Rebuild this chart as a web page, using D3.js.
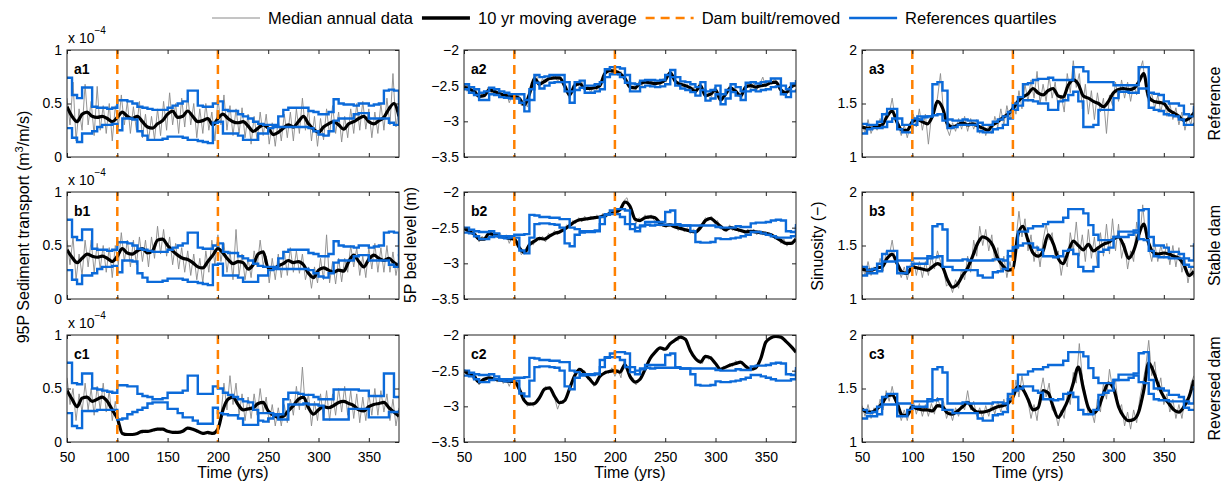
<!DOCTYPE html>
<html>
<head>
<meta charset="utf-8">
<script src="https://cdn.jsdelivr.net/npm/d3@7"></script>
<style>
  body { margin: 0; background: #fff; }
  svg text { font-family: "Liberation Sans", Arial, Helvetica, sans-serif; fill: #000; }
</style>
</head>
<body>
<div id="chart"></div>
<script>
// sample years: raw median every 3 yrs, moving average / quartiles every 5 yrs
const rawYears = d3.range(50, 381, 3);
const avgYears = d3.range(50, 381, 5);
const xTicks = [50, 100, 150, 200, 250, 300, 350];
const damYears = [100, 200];

// ---- column 1: 95P sediment transport (x 1e-4) ----
const rawA1 = [
  0.55,0.30,0.70,0.15,0.45,0.25,0.68,0.30,0.52,0.20,
  0.66,0.25,0.48,0.22,0.50,0.15,0.48,0.28,0.58,0.30,
  0.52,0.22,0.47,0.25,0.52,0.18,0.40,0.15,0.38,0.16,
  0.45,0.20,0.52,0.25,0.60,0.30,0.50,0.22,0.55,0.28,
  0.58,0.30,0.50,0.18,0.45,0.22,0.50,0.25,0.42,0.15,
  0.55,0.30,0.58,0.25,0.48,0.20,0.45,0.22,0.46,0.18,
  0.40,0.12,0.38,0.15,0.42,0.20,0.40,0.12,0.32,0.10,
  0.35,0.15,0.40,0.18,0.42,0.15,0.45,0.22,0.55,0.25,
  0.45,0.15,0.38,0.10,0.36,0.16,0.45,0.20,0.48,0.22,
  0.42,0.14,0.38,0.18,0.45,0.22,0.50,0.25,0.52,0.26,
  0.45,0.18,0.42,0.22,0.50,0.25,0.55,0.30,0.78,0.28,
  0.45];
const rawB1 = [
  0.55,0.32,0.58,0.18,0.42,0.22,0.55,0.30,0.55,0.25,
  0.52,0.28,0.50,0.25,0.48,0.20,0.50,0.32,0.62,0.35,
  0.55,0.30,0.55,0.32,0.58,0.35,0.55,0.30,0.58,0.38,
  0.68,0.42,0.65,0.40,0.58,0.32,0.52,0.28,0.48,0.25,
  0.45,0.22,0.42,0.18,0.38,0.15,0.45,0.25,0.55,0.32,
  0.60,0.35,0.52,0.25,0.45,0.18,0.65,0.22,0.42,0.18,
  0.38,0.20,0.45,0.30,0.55,0.32,0.40,0.15,0.38,0.18,
  0.42,0.20,0.45,0.22,0.48,0.25,0.45,0.24,0.42,0.18,
  0.30,0.10,0.30,0.15,0.38,0.18,0.60,0.15,0.35,0.14,
  0.38,0.16,0.38,0.25,0.50,0.30,0.48,0.22,0.40,0.20,
  0.48,0.28,0.52,0.25,0.48,0.25,0.50,0.25,0.44,0.22,
  0.38];
const rawC1 = [
  0.60,0.35,0.50,0.20,0.45,0.28,0.55,0.30,0.50,0.25,
  0.52,0.30,0.55,0.28,0.48,0.20,0.38,0.15,0.10,0.06,
  0.08,0.06,0.08,0.07,0.10,0.08,0.11,0.09,0.12,0.10,
  0.13,0.11,0.13,0.10,0.11,0.08,0.10,0.08,0.11,0.10,
  0.14,0.12,0.13,0.09,0.10,0.07,0.09,0.07,0.09,0.07,
  0.15,0.25,0.55,0.30,0.62,0.35,0.55,0.25,0.45,0.20,
  0.42,0.22,0.45,0.25,0.50,0.28,0.42,0.18,0.35,0.15,
  0.32,0.15,0.35,0.18,0.40,0.25,0.52,0.30,0.70,0.30,
  0.45,0.15,0.38,0.20,0.45,0.22,0.48,0.20,0.45,0.25,
  0.50,0.28,0.52,0.25,0.48,0.22,0.45,0.18,0.42,0.20,
  0.45,0.25,0.50,0.25,0.48,0.28,0.45,0.20,0.40,0.15,
  0.32];
const avgA1 = [
  0.47,0.38,0.33,0.40,0.42,0.38,0.37,0.38,0.36,0.33,
  0.37,0.42,0.38,0.36,0.38,0.33,0.28,0.27,0.31,0.34,
  0.40,0.43,0.37,0.38,0.43,0.38,0.33,0.34,0.36,0.30,
  0.36,0.40,0.36,0.33,0.32,0.33,0.29,0.24,0.27,0.30,
  0.27,0.21,0.23,0.27,0.30,0.28,0.33,0.38,0.31,0.26,
  0.23,0.28,0.31,0.33,0.30,0.26,0.31,0.33,0.36,0.38,
  0.33,0.31,0.34,0.37,0.45,0.50,0.38];
const avgB1 = [
  0.46,0.39,0.34,0.38,0.42,0.40,0.39,0.40,0.38,0.35,
  0.40,0.47,0.43,0.42,0.45,0.47,0.43,0.45,0.55,0.56,
  0.50,0.45,0.41,0.38,0.37,0.34,0.30,0.29,0.35,0.41,
  0.47,0.43,0.37,0.33,0.35,0.34,0.28,0.32,0.42,0.44,
  0.29,0.28,0.31,0.33,0.36,0.34,0.35,0.32,0.24,0.20,
  0.27,0.29,0.27,0.25,0.27,0.26,0.35,0.41,0.35,0.30,
  0.37,0.41,0.38,0.36,0.38,0.34,0.31];
const avgC1 = [
  0.48,0.40,0.33,0.41,0.42,0.38,0.40,0.42,0.38,0.30,
  0.22,0.08,0.07,0.07,0.08,0.10,0.10,0.11,0.12,0.12,
  0.10,0.09,0.09,0.10,0.13,0.12,0.10,0.08,0.09,0.08,
  0.12,0.30,0.40,0.42,0.35,0.30,0.31,0.32,0.36,0.37,
  0.29,0.25,0.23,0.24,0.29,0.34,0.40,0.42,0.32,0.26,
  0.30,0.33,0.32,0.34,0.37,0.38,0.36,0.34,0.30,0.29,
  0.33,0.35,0.36,0.37,0.32,0.28,0.24];
const q1UpAB = [
  0.74,0.58,0.55,0.65,0.65,0.47,0.46,0.46,0.45,0.46,
  0.53,0.53,0.52,0.50,0.47,0.46,0.45,0.44,0.44,0.44,
  0.46,0.48,0.50,0.52,0.62,0.62,0.48,0.47,0.47,0.50,
  0.52,0.44,0.43,0.43,0.40,0.38,0.36,0.33,0.31,0.30,
  0.30,0.30,0.38,0.44,0.46,0.46,0.46,0.46,0.43,0.42,
  0.40,0.40,0.42,0.54,0.50,0.49,0.49,0.48,0.50,0.50,
  0.48,0.49,0.50,0.62,0.63,0.62,0.40];
const q1LoAB = [
  0.27,0.18,0.14,0.22,0.22,0.24,0.28,0.30,0.30,0.31,
  0.25,0.36,0.36,0.35,0.24,0.20,0.16,0.16,0.16,0.17,
  0.19,0.19,0.19,0.18,0.16,0.16,0.15,0.14,0.13,0.32,
  0.33,0.22,0.22,0.22,0.20,0.16,0.16,0.16,0.22,0.22,
  0.27,0.28,0.28,0.28,0.28,0.28,0.28,0.28,0.27,0.24,
  0.21,0.20,0.24,0.34,0.36,0.36,0.36,0.40,0.41,0.41,
  0.36,0.36,0.36,0.36,0.32,0.30,0.42];
const q1UpC = [
  0.74,0.55,0.54,0.64,0.64,0.50,0.49,0.48,0.47,0.46,
  0.53,0.53,0.52,0.52,0.45,0.43,0.42,0.40,0.40,0.41,
  0.46,0.46,0.46,0.48,0.62,0.62,0.45,0.45,0.45,0.52,
  0.50,0.46,0.44,0.42,0.40,0.38,0.37,0.30,0.20,0.19,
  0.22,0.25,0.26,0.40,0.46,0.46,0.45,0.44,0.44,0.42,
  0.40,0.40,0.40,0.49,0.49,0.49,0.49,0.49,0.48,0.48,
  0.43,0.43,0.43,0.64,0.64,0.42,0.42];
const q1LoC = [
  0.27,0.15,0.13,0.29,0.29,0.29,0.30,0.30,0.30,0.30,
  0.21,0.22,0.26,0.28,0.30,0.32,0.36,0.37,0.37,0.37,
  0.31,0.31,0.27,0.23,0.23,0.20,0.17,0.17,0.17,0.32,
  0.27,0.26,0.25,0.25,0.22,0.16,0.16,0.16,0.27,0.27,
  0.27,0.26,0.21,0.21,0.35,0.35,0.35,0.36,0.35,0.35,
  0.34,0.21,0.21,0.21,0.21,0.21,0.31,0.31,0.31,0.31,
  0.23,0.23,0.23,0.23,0.28,0.28,0.30];

// ---- column 2: 5P bed level (m) ----
const rawA2 = [
  -2.48,-2.58,-2.52,-2.62,-2.56,-2.70,-2.60,-2.66,-2.52,-2.60,
  -2.54,-2.64,-2.58,-2.68,-2.60,-2.74,-2.62,-2.66,-2.62,-2.78,
  -2.72,-2.80,-2.55,-2.42,-2.35,-2.52,-2.40,-2.46,-2.36,-2.42,
  -2.34,-2.44,-2.38,-2.52,-2.58,-2.70,-2.50,-2.44,-2.50,-2.44,
  -2.58,-2.50,-2.60,-2.48,-2.56,-2.46,-2.40,-2.30,-2.25,-2.33,
  -2.22,-2.36,-2.30,-2.42,-2.45,-2.55,-2.50,-2.56,-2.44,-2.50,
  -2.42,-2.48,-2.43,-2.50,-2.44,-2.50,-2.40,-2.45,-2.30,-2.35,
  -2.40,-2.50,-2.46,-2.52,-2.48,-2.56,-2.52,-2.60,-2.46,-2.56,
  -2.68,-2.60,-2.66,-2.52,-2.60,-2.72,-2.66,-2.58,-2.50,-2.56,
  -2.54,-2.62,-2.68,-2.56,-2.48,-2.54,-2.46,-2.56,-2.48,-2.38,
  -2.52,-2.44,-2.48,-2.40,-2.48,-2.54,-2.64,-2.56,-2.60,-2.46,
  -2.50];
const rawB2 = [
  -2.48,-2.56,-2.52,-2.60,-2.58,-2.70,-2.62,-2.68,-2.56,-2.62,
  -2.56,-2.64,-2.58,-2.66,-2.60,-2.72,-2.62,-2.70,-2.76,-2.88,
  -2.82,-2.84,-2.70,-2.74,-2.64,-2.68,-2.62,-2.70,-2.58,-2.62,
  -2.54,-2.60,-2.52,-2.56,-2.46,-2.50,-2.40,-2.44,-2.36,-2.42,
  -2.34,-2.40,-2.34,-2.38,-2.32,-2.38,-2.30,-2.36,-2.28,-2.32,
  -2.24,-2.30,-2.20,-2.12,-2.08,-2.24,-2.34,-2.44,-2.36,-2.40,
  -2.32,-2.38,-2.32,-2.40,-2.38,-2.48,-2.42,-2.50,-2.44,-2.50,
  -2.46,-2.54,-2.48,-2.56,-2.50,-2.58,-2.52,-2.56,-2.46,-2.44,
  -2.36,-2.40,-2.34,-2.44,-2.40,-2.52,-2.50,-2.56,-2.46,-2.54,
  -2.48,-2.56,-2.52,-2.58,-2.52,-2.58,-2.52,-2.60,-2.54,-2.60,
  -2.56,-2.62,-2.58,-2.66,-2.62,-2.72,-2.66,-2.76,-2.70,-2.74,
  -2.62];
const rawC2 = [
  -2.48,-2.56,-2.52,-2.62,-2.58,-2.70,-2.62,-2.66,-2.58,-2.64,
  -2.58,-2.66,-2.60,-2.68,-2.62,-2.72,-2.60,-2.70,-2.72,-2.86,
  -2.90,-3.00,-2.94,-3.00,-2.92,-2.86,-2.82,-2.72,-2.76,-2.78,
  -2.88,-3.04,-2.92,-2.96,-2.86,-2.76,-2.62,-2.54,-2.46,-2.52,
  -2.50,-2.62,-2.60,-2.72,-2.62,-2.56,-2.54,-2.50,-2.54,-2.46,
  -2.58,-2.48,-2.60,-2.36,-2.48,-2.62,-2.60,-2.70,-2.62,-2.56,
  -2.46,-2.36,-2.30,-2.26,-2.20,-2.18,-2.22,-2.16,-2.14,-2.10,
  -2.04,-2.08,-2.00,-2.06,-2.10,-2.22,-2.30,-2.36,-2.34,-2.40,
  -2.28,-2.34,-2.30,-2.38,-2.44,-2.50,-2.44,-2.46,-2.40,-2.44,
  -2.36,-2.40,-2.38,-2.44,-2.46,-2.50,-2.46,-2.42,-2.34,-2.24,
  -2.12,-2.04,-2.02,-2.00,-2.04,-2.02,-2.08,-2.10,-2.16,-2.20,
  -2.26];
const avgA2 = [
  -2.52,-2.55,-2.58,-2.65,-2.64,-2.56,-2.58,-2.61,-2.63,-2.65,
  -2.65,-2.68,-2.77,-2.62,-2.40,-2.48,-2.44,-2.40,-2.39,-2.39,
  -2.50,-2.63,-2.50,-2.47,-2.54,-2.54,-2.53,-2.50,-2.33,-2.29,
  -2.30,-2.33,-2.40,-2.52,-2.53,-2.47,-2.45,-2.46,-2.47,-2.46,
  -2.42,-2.32,-2.44,-2.48,-2.50,-2.53,-2.58,-2.50,-2.64,-2.62,
  -2.56,-2.70,-2.62,-2.53,-2.58,-2.64,-2.52,-2.50,-2.52,-2.50,
  -2.49,-2.46,-2.45,-2.56,-2.60,-2.52,-2.48];
const avgB2 = [
  -2.51,-2.55,-2.59,-2.66,-2.66,-2.58,-2.60,-2.62,-2.63,-2.65,
  -2.66,-2.78,-2.85,-2.74,-2.69,-2.65,-2.66,-2.62,-2.58,-2.56,
  -2.52,-2.47,-2.42,-2.39,-2.38,-2.37,-2.36,-2.35,-2.33,-2.30,
  -2.28,-2.25,-2.14,-2.20,-2.38,-2.40,-2.36,-2.35,-2.36,-2.44,
  -2.47,-2.46,-2.49,-2.51,-2.53,-2.55,-2.56,-2.50,-2.40,-2.37,
  -2.42,-2.48,-2.53,-2.50,-2.52,-2.54,-2.56,-2.55,-2.56,-2.57,
  -2.58,-2.60,-2.64,-2.68,-2.72,-2.72,-2.66];
const avgC2 = [
  -2.50,-2.55,-2.58,-2.66,-2.62,-2.60,-2.62,-2.63,-2.64,-2.65,
  -2.65,-2.76,-2.92,-2.97,-2.96,-2.88,-2.76,-2.74,-2.86,-2.95,
  -2.92,-2.75,-2.57,-2.48,-2.54,-2.62,-2.69,-2.58,-2.53,-2.51,
  -2.50,-2.52,-2.42,-2.58,-2.66,-2.62,-2.48,-2.33,-2.24,-2.18,
  -2.20,-2.12,-2.07,-2.03,-2.06,-2.22,-2.33,-2.38,-2.30,-2.32,
  -2.40,-2.48,-2.45,-2.42,-2.40,-2.38,-2.44,-2.48,-2.46,-2.33,
  -2.10,-2.04,-2.02,-2.03,-2.09,-2.16,-2.24];
const q2UpA = [
  -2.48,-2.52,-2.55,-2.60,-2.58,-2.53,-2.55,-2.58,-2.60,-2.62,
  -2.62,-2.62,-2.70,-2.55,-2.35,-2.38,-2.37,-2.35,-2.35,-2.35,
  -2.45,-2.58,-2.45,-2.43,-2.50,-2.50,-2.48,-2.45,-2.27,-2.24,
  -2.24,-2.26,-2.35,-2.47,-2.48,-2.43,-2.42,-2.42,-2.43,-2.42,
  -2.35,-2.28,-2.38,-2.44,-2.45,-2.48,-2.52,-2.45,-2.58,-2.56,
  -2.50,-2.62,-2.56,-2.48,-2.52,-2.58,-2.46,-2.45,-2.47,-2.45,
  -2.44,-2.40,-2.40,-2.50,-2.55,-2.47,-2.42];
const q2LoA = [
  -2.55,-2.60,-2.63,-2.70,-2.70,-2.62,-2.63,-2.66,-2.67,-2.68,
  -2.68,-2.74,-2.86,-2.70,-2.46,-2.54,-2.50,-2.46,-2.45,-2.45,
  -2.58,-2.74,-2.56,-2.53,-2.60,-2.60,-2.58,-2.55,-2.38,-2.34,
  -2.34,-2.38,-2.46,-2.58,-2.58,-2.52,-2.50,-2.51,-2.52,-2.51,
  -2.48,-2.38,-2.50,-2.54,-2.56,-2.59,-2.64,-2.56,-2.71,-2.68,
  -2.62,-2.76,-2.68,-2.59,-2.64,-2.70,-2.58,-2.56,-2.58,-2.56,
  -2.55,-2.52,-2.51,-2.62,-2.66,-2.58,-2.55];
const q2UpBC = [
  -2.50,-2.53,-2.55,-2.56,-2.56,-2.55,-2.58,-2.62,-2.62,-2.62,
  -2.60,-2.60,-2.59,-2.32,-2.33,-2.35,-2.35,-2.36,-2.36,-2.38,
  -2.38,-2.50,-2.52,-2.55,-2.55,-2.55,-2.54,-2.45,-2.31,-2.26,
  -2.24,-2.24,-2.26,-2.45,-2.50,-2.47,-2.42,-2.42,-2.42,-2.42,
  -2.28,-2.26,-2.45,-2.47,-2.47,-2.47,-2.47,-2.47,-2.47,-2.47,
  -2.49,-2.50,-2.50,-2.50,-2.48,-2.49,-2.49,-2.44,-2.43,-2.43,
  -2.42,-2.40,-2.39,-2.40,-2.55,-2.56,-2.45];
const q2LoBC = [
  -2.57,-2.58,-2.62,-2.66,-2.66,-2.63,-2.62,-2.64,-2.65,-2.64,
  -2.64,-2.82,-2.86,-2.64,-2.45,-2.44,-2.44,-2.45,-2.46,-2.50,
  -2.72,-2.76,-2.60,-2.57,-2.56,-2.56,-2.55,-2.35,-2.32,-2.31,
  -2.31,-2.35,-2.45,-2.52,-2.55,-2.48,-2.46,-2.47,-2.46,-2.46,
  -2.46,-2.46,-2.46,-2.47,-2.47,-2.55,-2.70,-2.71,-2.71,-2.70,
  -2.65,-2.66,-2.66,-2.65,-2.64,-2.62,-2.60,-2.56,-2.56,-2.58,
  -2.60,-2.62,-2.64,-2.64,-2.64,-2.62,-2.48];

// ---- column 3: sinuosity (-) ----
const rawA3 = [
  1.32,1.22,1.35,1.22,1.30,1.25,1.36,1.26,1.42,1.40,
  1.55,1.36,1.30,1.20,1.30,1.18,1.30,1.40,1.28,1.45,
  1.25,1.40,1.12,1.38,1.45,1.55,1.78,1.42,1.28,1.20,
  1.32,1.24,1.36,1.26,1.38,1.24,1.36,1.26,1.35,1.22,
  1.32,1.20,1.30,1.22,1.38,1.28,1.45,1.30,1.48,1.35,
  1.55,1.40,1.62,1.45,1.68,1.52,1.72,1.55,1.80,1.50,
  1.68,1.52,1.75,1.55,1.70,1.45,1.58,1.42,1.78,1.60,
  1.90,1.65,1.78,1.45,1.68,1.40,1.62,1.35,1.60,1.42,
  1.55,1.22,1.58,1.48,1.70,1.52,1.72,1.55,1.70,1.52,
  1.68,1.58,1.80,1.90,1.62,1.50,1.60,1.45,1.58,1.42,
  1.56,1.38,1.50,1.35,1.46,1.30,1.42,1.25,1.38,1.30,
  1.50];
const rawB3 = [
  1.32,1.22,1.35,1.22,1.30,1.25,1.38,1.26,1.45,1.40,
  1.55,1.36,1.28,1.20,1.30,1.18,1.32,1.38,1.22,1.35,
  1.20,1.35,1.22,1.40,1.28,1.45,1.35,1.28,1.12,1.15,
  1.06,1.18,1.10,1.28,1.18,1.40,1.25,1.55,1.40,1.68,
  1.50,1.65,1.45,1.60,1.35,1.48,1.25,1.40,1.20,1.35,
  1.22,1.55,1.82,1.58,1.75,1.45,1.60,1.35,1.50,1.30,
  1.55,1.70,1.55,1.62,1.38,1.45,1.22,1.40,1.30,1.62,
  1.45,1.72,1.40,1.60,1.35,1.65,1.38,1.58,1.30,1.62,
  1.40,1.70,1.42,1.75,1.45,1.70,1.38,1.52,1.28,1.45,
  1.35,1.72,1.55,1.88,1.58,1.48,1.35,1.52,1.35,1.50,
  1.38,1.52,1.32,1.50,1.30,1.48,1.25,1.38,1.15,1.30,
  1.20];
const rawC3 = [
  1.34,1.24,1.35,1.22,1.32,1.26,1.40,1.30,1.48,1.38,
  1.52,1.38,1.30,1.20,1.30,1.20,1.34,1.38,1.26,1.36,
  1.24,1.35,1.24,1.36,1.26,1.42,1.32,1.38,1.22,1.30,
  1.20,1.32,1.24,1.36,1.30,1.48,1.30,1.38,1.24,1.32,
  1.22,1.34,1.24,1.36,1.26,1.38,1.28,1.40,1.30,1.45,
  1.35,1.58,1.42,1.62,1.45,1.38,1.22,1.35,1.20,1.45,
  1.60,1.42,1.55,1.30,1.28,1.15,1.30,1.22,1.45,1.35,
  1.65,1.55,1.92,1.60,1.45,1.25,1.30,1.18,1.40,1.28,
  1.55,1.40,1.68,1.50,1.58,1.30,1.35,1.15,1.28,1.12,
  1.30,1.18,1.40,1.55,1.70,1.95,1.62,1.75,1.48,1.60,
  1.35,1.45,1.28,1.40,1.22,1.35,1.22,1.40,1.35,1.55,
  1.62];
const avgA3 = [
  1.28,1.27,1.27,1.29,1.30,1.38,1.43,1.32,1.25,1.25,
  1.33,1.35,1.33,1.31,1.38,1.52,1.46,1.31,1.28,1.30,
  1.32,1.30,1.31,1.29,1.27,1.25,1.30,1.33,1.37,1.40,
  1.45,1.52,1.56,1.59,1.64,1.60,1.58,1.62,1.64,1.57,
  1.56,1.67,1.72,1.68,1.57,1.55,1.52,1.50,1.47,1.52,
  1.60,1.63,1.64,1.63,1.64,1.70,1.78,1.56,1.52,1.51,
  1.50,1.44,1.41,1.38,1.34,1.36,1.41];
const avgB3 = [
  1.28,1.27,1.27,1.29,1.30,1.38,1.42,1.33,1.25,1.24,
  1.30,1.29,1.28,1.27,1.30,1.33,1.30,1.18,1.11,1.14,
  1.22,1.29,1.40,1.52,1.58,1.56,1.50,1.38,1.31,1.27,
  1.28,1.60,1.68,1.55,1.43,1.40,1.45,1.60,1.52,1.38,
  1.33,1.44,1.54,1.50,1.46,1.51,1.45,1.48,1.51,1.53,
  1.56,1.58,1.50,1.38,1.45,1.60,1.70,1.52,1.43,1.42,
  1.43,1.42,1.40,1.38,1.32,1.22,1.26];
const avgC3 = [
  1.31,1.28,1.28,1.31,1.36,1.43,1.44,1.36,1.25,1.25,
  1.33,1.31,1.30,1.30,1.29,1.34,1.33,1.27,1.26,1.29,
  1.33,1.37,1.31,1.28,1.28,1.29,1.31,1.33,1.34,1.36,
  1.42,1.52,1.49,1.40,1.30,1.32,1.48,1.46,1.33,1.23,
  1.30,1.40,1.55,1.70,1.50,1.32,1.27,1.32,1.45,1.55,
  1.50,1.33,1.24,1.20,1.21,1.28,1.48,1.74,1.65,1.52,
  1.42,1.36,1.30,1.28,1.33,1.42,1.58];
const q3UpA = [
  1.31,1.30,1.30,1.33,1.40,1.45,1.45,1.36,1.30,1.30,
  1.36,1.38,1.38,1.38,1.68,1.70,1.62,1.35,1.34,1.34,
  1.35,1.34,1.34,1.32,1.30,1.30,1.33,1.35,1.38,1.42,
  1.50,1.56,1.68,1.69,1.72,1.73,1.73,1.74,1.72,1.72,
  1.72,1.72,1.84,1.84,1.80,1.70,1.70,1.70,1.70,1.70,
  1.67,1.67,1.67,1.67,1.67,1.84,1.84,1.60,1.59,1.58,
  1.52,1.50,1.50,1.48,1.40,1.38,1.48];
const q3LoA = [
  1.22,1.26,1.27,1.27,1.28,1.33,1.36,1.26,1.23,1.23,
  1.30,1.35,1.37,1.38,1.39,1.40,1.34,1.27,1.28,1.30,
  1.30,1.30,1.30,1.24,1.23,1.23,1.26,1.27,1.30,1.36,
  1.44,1.48,1.53,1.53,1.52,1.50,1.50,1.44,1.44,1.52,
  1.53,1.58,1.61,1.52,1.28,1.28,1.30,1.44,1.44,1.44,
  1.55,1.61,1.61,1.60,1.60,1.64,1.64,1.46,1.44,1.43,
  1.40,1.39,1.38,1.35,1.30,1.30,1.32];
const q3UpBC = [
  1.30,1.27,1.28,1.33,1.42,1.45,1.45,1.36,1.36,1.36,
  1.38,1.38,1.38,1.40,1.68,1.70,1.65,1.36,1.36,1.36,
  1.37,1.36,1.36,1.36,1.36,1.36,1.37,1.37,1.36,1.40,
  1.49,1.63,1.63,1.66,1.68,1.68,1.70,1.72,1.72,1.72,
  1.76,1.84,1.84,1.84,1.80,1.69,1.60,1.55,1.55,1.55,
  1.58,1.63,1.63,1.63,1.64,1.83,1.84,1.58,1.50,1.50,
  1.48,1.44,1.44,1.42,1.38,1.36,1.52];
const q3LoBC = [
  1.22,1.24,1.24,1.26,1.35,1.35,1.35,1.24,1.24,1.30,
  1.33,1.33,1.33,1.38,1.39,1.40,1.30,1.30,1.27,1.27,
  1.27,1.27,1.27,1.22,1.20,1.20,1.25,1.26,1.28,1.45,
  1.48,1.50,1.52,1.52,1.48,1.46,1.40,1.40,1.39,1.40,
  1.45,1.46,1.42,1.30,1.26,1.26,1.30,1.44,1.46,1.48,
  1.58,1.58,1.58,1.60,1.62,1.56,1.55,1.45,1.40,1.39,
  1.39,1.38,1.38,1.38,1.32,1.30,1.30];

const rowNames = ['Reference', 'Stable dam', 'Reversed dam'];

// layout
const W = 1225, H = 487;
const colLeft = [67, 464, 862];
const rowTop = [50, 192, 335];
const pw = 332, ph = 107;

const colors = { raw: '#8a8a8a', avg: '#000000', dam: '#ff8000', quart: '#0b6ad9' };

const columns = [
  { domain: [0, 1], ticks: [0, 0.5, 1], multiplier: true },
  { domain: [-3.5, -2], ticks: [-3.5, -3, -2.5, -2], multiplier: false },
  { domain: [1, 2], ticks: [1, 1.5, 2], multiplier: false }
];

const panels = [
  { row: 0, col: 0, tag: 'a1', raw: rawA1, avg: avgA1, q: [q1UpAB, q1LoAB] },
  { row: 1, col: 0, tag: 'b1', raw: rawB1, avg: avgB1, q: [q1UpAB, q1LoAB] },
  { row: 2, col: 0, tag: 'c1', raw: rawC1, avg: avgC1, q: [q1UpC, q1LoC] },
  { row: 0, col: 1, tag: 'a2', raw: rawA2, avg: avgA2, q: [q2UpA, q2LoA] },
  { row: 1, col: 1, tag: 'b2', raw: rawB2, avg: avgB2, q: [q2UpBC, q2LoBC] },
  { row: 2, col: 1, tag: 'c2', raw: rawC2, avg: avgC2, q: [q2UpBC, q2LoBC] },
  { row: 0, col: 2, tag: 'a3', raw: rawA3, avg: avgA3, q: [q3UpA, q3LoA] },
  { row: 1, col: 2, tag: 'b3', raw: rawB3, avg: avgB3, q: [q3UpBC, q3LoBC] },
  { row: 2, col: 2, tag: 'c3', raw: rawC3, avg: avgC3, q: [q3UpBC, q3LoBC] }
];

const svg = d3.select('#chart').append('svg')
  .attr('width', W).attr('height', H);
const defs = svg.append('defs');

const fmt = d3.format('');

function styleAxis(g) {
  g.select('.domain').remove();
  g.selectAll('.tick line').attr('stroke', '#222').attr('stroke-width', 1);
  g.selectAll('.tick text')
    .attr('font-family', '"Liberation Sans", Arial, sans-serif')
    .attr('font-size', 14).attr('fill', '#000');
}

function drawPanel(p) {
  const c = columns[p.col];
  const x0 = colLeft[p.col], y0 = rowTop[p.row];
  const x = d3.scaleLinear().domain([50, 380]).range([x0, x0 + pw]);
  const y = d3.scaleLinear().domain(c.domain).range([y0 + ph, y0]);

  const clipId = 'clip-' + p.tag;
  defs.append('clipPath').attr('id', clipId)
    .append('rect').attr('x', x0).attr('y', y0).attr('width', pw).attr('height', ph);

  const g = svg.append('g');
  const plot = g.append('g').attr('clip-path', `url(#${clipId})`);

  // median annual data
  plot.append('path')
    .datum(p.raw)
    .attr('fill', 'none')
    .attr('stroke', colors.raw)
    .attr('stroke-width', 0.9)
    .attr('d', d3.line().x((d, i) => x(rawYears[i])).y(d => y(d)));

  // 10 yr moving average
  plot.append('path')
    .datum(p.avg)
    .attr('fill', 'none')
    .attr('stroke', colors.avg)
    .attr('stroke-width', 3.2)
    .attr('stroke-linejoin', 'round')
    .attr('d', d3.line().curve(d3.curveMonotoneX).x((d, i) => x(avgYears[i])).y(d => y(d)));

  // reference quartiles (stepped)
  p.q.forEach(arr => {
    plot.append('path')
      .datum(arr)
      .attr('fill', 'none')
      .attr('stroke', colors.quart)
      .attr('stroke-width', 2.4)
      .attr('d', d3.line().curve(d3.curveStepAfter).x((d, i) => x(avgYears[i])).y(d => y(d)));
  });

  // dam built / removed
  g.selectAll('line.dam')
    .data(damYears)
    .join('line')
    .attr('class', 'dam')
    .attr('x1', d => x(d)).attr('x2', d => x(d))
    .attr('y1', y0).attr('y2', y0 + ph)
    .attr('stroke', colors.dam)
    .attr('stroke-width', 2.5)
    .attr('stroke-dasharray', '9,6');

  // axes, MATLAB style with ticks inside on all four sides
  g.append('g')
    .attr('transform', `translate(0,${y0 + ph})`)
    .call(d3.axisBottom(x).tickValues(xTicks).tickSizeInner(-4).tickSizeOuter(0).tickPadding(10)
      .tickFormat(p.row === 2 ? fmt : () => ''))
    .call(styleAxis);
  g.append('g')
    .attr('transform', `translate(0,${y0})`)
    .call(d3.axisTop(x).tickValues(xTicks).tickSizeInner(-4).tickSizeOuter(0).tickFormat(() => ''))
    .call(styleAxis);
  g.append('g')
    .attr('transform', `translate(${x0},0)`)
    .call(d3.axisLeft(y).tickValues(c.ticks).tickSizeInner(-4).tickSizeOuter(0).tickPadding(5).tickFormat(fmt))
    .call(styleAxis);
  g.append('g')
    .attr('transform', `translate(${x0 + pw},0)`)
    .call(d3.axisRight(y).tickValues(c.ticks).tickSizeInner(-4).tickSizeOuter(0).tickFormat(() => ''))
    .call(styleAxis);

  g.append('rect')
    .attr('x', x0).attr('y', y0).attr('width', pw).attr('height', ph)
    .attr('fill', 'none').attr('stroke', '#222').attr('stroke-width', 1);

  // panel tag
  g.append('text')
    .attr('x', x0 + 7).attr('y', y0 + 24)
    .attr('font-size', 14).attr('font-weight', 'bold')
    .text(p.tag);

  // x 10^-4 multiplier
  if (c.multiplier) {
    const t = g.append('text').attr('x', x0 + 1).attr('y', y0 - 7).attr('font-size', 14);
    t.append('tspan').text('x 10');
    t.append('tspan').attr('dy', -9).attr('font-size', 10).text('\u22124');
  }
}

panels.forEach(drawPanel);

// x axis labels
colLeft.forEach(x0 => {
  svg.append('text')
    .attr('x', x0 + pw / 2).attr('y', 478)
    .attr('text-anchor', 'middle').attr('font-size', 16)
    .text('Time (yrs)');
});

// y axis labels
const yl1 = svg.append('text')
  .attr('transform', 'translate(29,227) rotate(-90)')
  .attr('text-anchor', 'middle').attr('font-size', 16);
yl1.append('tspan').text('95P Sediment transport (m');
yl1.append('tspan').attr('dy', -6).attr('font-size', 11).text('3');
yl1.append('tspan').attr('dy', 6).text('/m/s)');

svg.append('text')
  .attr('transform', 'translate(416,245) rotate(-90)')
  .attr('text-anchor', 'middle').attr('font-size', 16)
  .text('5P bed level (m)');

svg.append('text')
  .attr('transform', 'translate(823,246) rotate(-90)')
  .attr('text-anchor', 'middle').attr('font-size', 16)
  .text('Sinuosity (\u2212)');

// row labels on the right
rowNames.forEach((name, i) => {
  svg.append('text')
    .attr('transform', `translate(1220,${rowTop[i] + ph / 2}) rotate(-90)`)
    .attr('text-anchor', 'middle').attr('font-size', 16)
    .text(name);
});

// legend
const legendItems = [
  { label: 'Median annual data', color: colors.raw, width: 1, dash: null },
  { label: '10 yr moving average', color: colors.avg, width: 3.5, dash: null },
  { label: 'Dam built/removed', color: colors.dam, width: 2.5, dash: '9,6' },
  { label: 'References quartiles', color: colors.quart, width: 2.5, dash: null }
];
const legend = svg.append('g');
let lx = 212;
const ly = 18;
legendItems.forEach(item => {
  legend.append('line')
    .attr('x1', lx).attr('x2', lx + 48)
    .attr('y1', ly).attr('y2', ly)
    .attr('stroke', item.color)
    .attr('stroke-width', item.width)
    .attr('stroke-dasharray', item.dash);
  const t = legend.append('text')
    .attr('x', lx + 56).attr('y', ly + 6)
    .attr('font-size', 16.5)
    .text(item.label);
  lx += 56 + t.node().getComputedTextLength() + 9;
});
</script>
</body>
</html>
